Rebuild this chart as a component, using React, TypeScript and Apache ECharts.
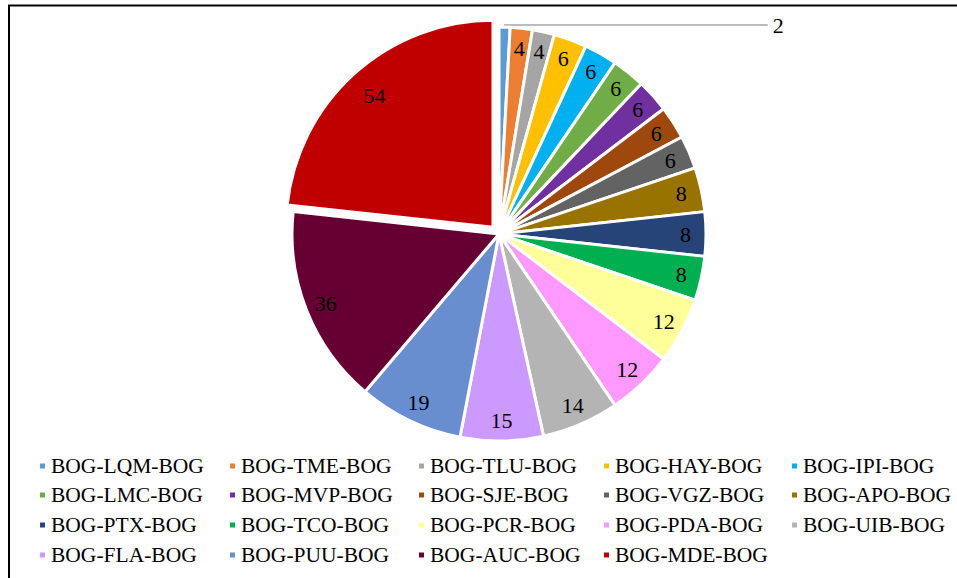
import React, { useEffect, useRef } from "react";
import * as echarts from "echarts";

const categories = [
  "BOG-LQM-BOG", "BOG-TME-BOG", "BOG-TLU-BOG", "BOG-HAY-BOG", "BOG-IPI-BOG",
  "BOG-LMC-BOG", "BOG-MVP-BOG", "BOG-SJE-BOG", "BOG-VGZ-BOG", "BOG-APO-BOG",
  "BOG-PTX-BOG", "BOG-TCO-BOG", "BOG-PCR-BOG", "BOG-PDA-BOG", "BOG-UIB-BOG",
  "BOG-FLA-BOG", "BOG-PUU-BOG", "BOG-AUC-BOG", "BOG-MDE-BOG",
];
const values = [2, 4, 4, 6, 6, 6, 6, 6, 6, 8, 8, 8, 12, 12, 14, 15, 19, 36, 54];
const colors = [
  "#5B9BD5", "#ED7D31", "#A5A5A5", "#FFC000", "#00B0F0",
  "#70AD47", "#7030A0", "#9E480E", "#636363", "#997300",
  "#264478", "#00B050", "#FFFF99", "#FF99FF", "#B4B4B4",
  "#CC99FF", "#698ED0", "#660033", "#C00000",
];
const outsideLabelName = "BOG-LQM-BOG";
const explodedName = "BOG-MDE-BOG";

const FONT = "'Liberation Serif', 'Times New Roman', serif";

export default function App() {
  const ref = useRef<HTMLDivElement>(null);
  useEffect(() => {
    if (!ref.current) return;
    const chart = echarts.init(ref.current, undefined, { renderer: "svg" });
    const center = [499, 234];
    const R = 207;

    const mainData = categories.map((name, i) => ({
      name,
      value: values[i],
      selected: name === explodedName,
      itemStyle: { color: colors[i] },
      label: { show: name === outsideLabelName },
      labelLine: { show: name === outsideLabelName },
    }));
    const labelData = categories.map((name, i) => ({
      name,
      value: values[i],
      label: { show: name !== outsideLabelName },
    }));

    const colX = [38, 228, 417, 602, 790];
    const rowCenters = [466, 495, 525, 555];

    chart.setOption({
      animation: false,
      graphic: [
        {
          type: "rect",
          shape: { x: 9, y: 5.5, width: 1000, height: 700 },
          style: { fill: "none", stroke: "#000", lineWidth: 2 },
          silent: true,
        },
      ],
      legend: categories.map((name, i) => ({
        data: [name],
        orient: "horizontal",
        left: colX[i % 5],
        top: rowCenters[Math.floor(i / 5)] - 11,
        padding: 0,
        itemWidth: 7,
        itemHeight: 7,
        icon: "rect",
        selectedMode: false,
        textStyle: {
          fontFamily: FONT,
          fontSize: 21.5,
          color: "#000",
        },
      })),
      series: [
        {
          type: "pie",
          center,
          radius: [0, R],
          startAngle: 90,
          clockwise: true,
          selectedMode: "single",
          selectedOffset: 9,
          avoidLabelOverlap: false,
          emphasis: { disabled: true },
          itemStyle: { borderColor: "#fff", borderWidth: 3 },
          label: {
            position: "outside",
            fontFamily: FONT,
            fontSize: 22,
            color: "#000",
            formatter: "{c}",
          },
          labelLine: {
            length: 2,
            length2: 263,
            lineStyle: { color: "#A6A6A6", width: 1.5 },
          },
          data: mainData,
        },
        {
          type: "pie",
          center,
          radius: [160, R],
          startAngle: 90,
          clockwise: true,
          silent: true,
          avoidLabelOverlap: false,
          emphasis: { disabled: true },
          itemStyle: { color: "rgba(0,0,0,0)" },
          label: {
            position: "inside",
            fontFamily: FONT,
            fontSize: 22,
            color: "#000",
            formatter: "{c}",
          },
          labelLine: { show: false },
          data: labelData,
        },
      ],
    });
    return () => chart.dispose();
  }, []);
  return (
    <div
      ref={ref}
      style={{ position: "fixed", left: 0, top: 0, width: 957, height: 578, background: "#fff" }}
    />
  );
}
